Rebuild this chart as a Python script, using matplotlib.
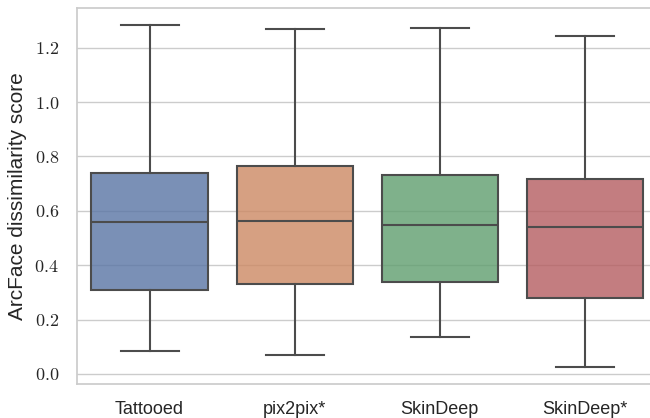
import colorsys
import matplotlib
matplotlib.use("Agg")
import matplotlib.pyplot as plt
import matplotlib.colors as mcolors
from matplotlib.ticker import FuncFormatter, MultipleLocator

# ---- data ----
categories = ["Tattooed", "pix2pix*", "SkinDeep", "SkinDeep*"]
whisker_low = [0.085, 0.070, 0.137, 0.026]
q1 = [0.309, 0.330, 0.340, 0.281]
median = [0.558, 0.563, 0.547, 0.541]
q3 = [0.739, 0.766, 0.730, 0.717]
whisker_high = [1.283, 1.268, 1.271, 1.242]
ylabel = "ArcFace dissimilarity score"
base_colors = ["#4C72B0", "#DD8452", "#55A868", "#C44E52"]

plt.rcParams["mathtext.fontset"] = "cm"
plt.rcParams["font.family"] = ["Liberation Sans", "DejaVu Sans"]


def desaturate(c, prop=0.75):
    r, g, b = mcolors.to_rgb(c)
    h, l, s = colorsys.rgb_to_hls(r, g, b)
    return colorsys.hls_to_rgb(h, l, s * prop)


fills = [desaturate(c) for c in base_colors]
lum = min(colorsys.rgb_to_hls(*c)[1] for c in fills) * 0.6
gray = (lum, lum, lum)

fig = plt.figure(figsize=(6.5, 4.18), dpi=100)
ax = fig.add_axes([77 / 650, 1 - 384 / 418, 580 / 650, 376 / 418])

stats = []
for i, name in enumerate(categories):
    stats.append(dict(label=name, whislo=whisker_low[i], q1=q1[i], med=median[i],
                      q3=q3[i], whishi=whisker_high[i], fliers=[]))

bp = ax.bxp(stats, positions=list(range(len(categories))), widths=0.8,
            patch_artist=True, showfliers=False,
            boxprops=dict(edgecolor=gray, linewidth=1.5),
            medianprops=dict(color=gray, linewidth=1.5),
            whiskerprops=dict(color=gray, linewidth=1.5),
            capprops=dict(color=gray, linewidth=1.5),
            zorder=2)
for patch, fc in zip(bp["boxes"], fills):
    patch.set_facecolor((*fc, 0.8))
    patch.set_edgecolor(gray)

ax.set_xlim(-0.5, len(categories) - 0.5)
lo = min(whisker_low)
hi = max(whisker_high)
m = (hi - lo) * 0.05
ax.set_ylim(lo - m, hi + m)
ax.yaxis.set_major_locator(MultipleLocator(0.2))
ax.yaxis.set_major_formatter(FuncFormatter(lambda v, p: r"$%.1f$" % v))

ax.set_facecolor("white")
ax.grid(axis="y", color="0.8", linewidth=1.0, zorder=0)
ax.grid(axis="x", visible=False)
ax.set_axisbelow(True)
for s in ax.spines.values():
    s.set_color("0.8")
    s.set_linewidth(1.25)

ax.tick_params(axis="both", length=0, labelsize=13, colors="#262626")
ax.tick_params(axis="y", pad=13)
ax.tick_params(axis="x", pad=12)
ax.set_ylabel(ylabel, fontsize=15, color="#262626", labelpad=5)

fig.savefig("out.png", dpi=100)
